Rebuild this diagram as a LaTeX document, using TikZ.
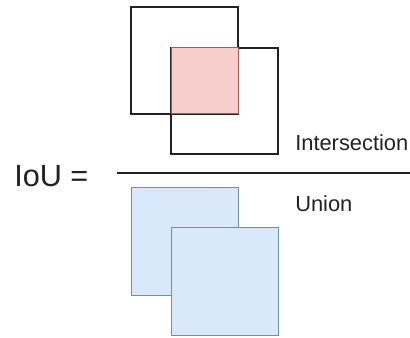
\documentclass[tikz,border=0pt]{standalone}
\usepackage{fontspec}
\setmainfont{Liberation Sans}
\definecolor{redfill}{HTML}{F8CECC}
\definecolor{redline}{HTML}{B85450}
\definecolor{bluefill}{HTML}{DAE8FC}
\definecolor{blueline}{HTML}{6C8EBF}
\definecolor{ink}{HTML}{222222}
\begin{document}
\begin{tikzpicture}[x=0.75pt,y=-0.75pt,
  sq/.style={draw=ink,line width=0.9pt},
  inter/.style={draw=redline,fill=redfill,line width=0.75pt},
  uni/.style={draw=blueline,fill=bluefill,line width=0.75pt},
  lbl/.style={anchor=base west,inner sep=0pt,text=ink,font=\fontsize{16.4}{18}\selectfont},
  big/.style={anchor=base west,inner sep=0pt,text=ink,font=\fontsize{23}{26}\selectfont}]
\useasboundingbox (0,0) rectangle (410,338);
% intersection pair
\draw[sq] (131,7) rectangle (238,114);
\draw[sq] (171,48) rectangle (278,154);
\draw[inter] (171,48) rectangle (238,114);
% union pair
\draw[uni] (131,188) rectangle (238,295);
\draw[uni] (171,228) rectangle (278,335);
% fraction bar
\coordinate (barL) at (117,173);
\coordinate (barR) at (410,173);
\draw[ink,line width=1.1pt] (barL) -- (barR);
% labels
\node[big] (iou) at (14,187) {IoU =};
\node[lbl] (int) at (295,151) {Intersection};
\node[lbl] (uni) at (295,212) {Union};
\end{tikzpicture}
\end{document}
